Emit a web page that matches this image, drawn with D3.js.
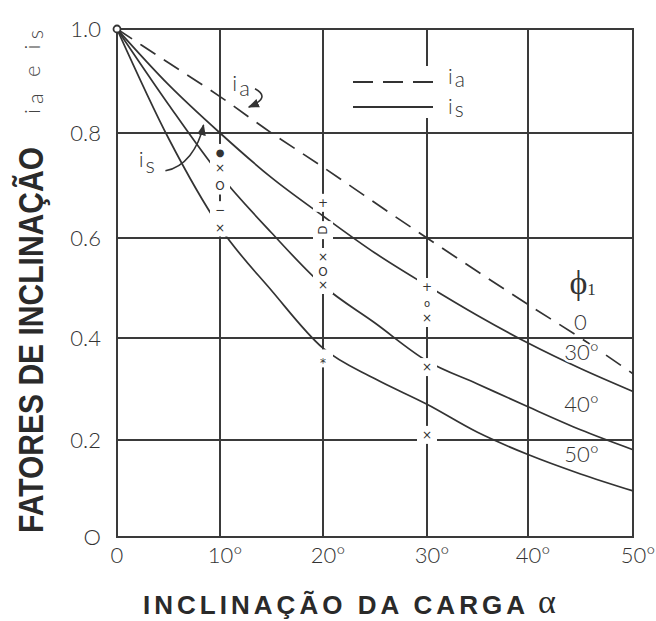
<!DOCTYPE html>
<html>
<head>
<meta charset="utf-8">
<script src="https://cdn.jsdelivr.net/npm/d3@7/dist/d3.min.js"></script>
<style>
  body { margin: 0; background: #fff; }
</style>
</head>
<body>
<div id="container"></div>
<script>
// inclinacao da carga (graus) onde as curvas foram lidas
var alphas = [0, 5, 10, 15, 20, 25, 30, 35, 40, 45, 50];
// i_a (phi1 = 0), tracejada
var iaValues = [1.0, 0.935, 0.87, 0.80, 0.735, 0.667, 0.60, 0.533, 0.467, 0.40, 0.33];
// i_s para phi1 = 30, 40, 50
var is30 = [1.0, 0.893, 0.80, 0.715, 0.642, 0.57, 0.505, 0.445, 0.39, 0.34, 0.295];
var is40 = [1.0, 0.855, 0.72, 0.61, 0.505, 0.43, 0.355, 0.31, 0.265, 0.22, 0.18];
var is50 = [1.0, 0.79, 0.62, 0.495, 0.38, 0.32, 0.27, 0.215, 0.17, 0.13, 0.095];
var curveLabels = ["0", "30°", "40°", "50°"];

var xTicks = [0, 10, 20, 30, 40, 50];
var xTickLabels = ["0", "10°", "20°", "30°", "40°", "50°"];
var yTicks = [0, 0.2, 0.4, 0.6, 0.8, 1.0];
var yTickLabels = ["O", "0.2", "0.4", "0.6", "0.8", "1.0"];

// pontos experimentais
var pointAlpha = [10, 10, 10, 10, 10, 20, 20, 20, 20, 20, 20, 30, 30, 30, 30, 30];
var pointValue = [0.762, 0.733, 0.70, 0.653, 0.62, 0.667, 0.615, 0.562, 0.532, 0.506, 0.36, 0.502, 0.47, 0.44, 0.343, 0.21];
var pointSymbol = ["●", "×", "O", "−", "×", "+", "D", "×", "O", "×", "*", "+", "o", "×", "×", "×"];

var W = 656, H = 621;
var tickFont = "Lato, 'Open Sans', sans-serif";
var ink = "#3a3a3a";

var svg = d3.select('#container')
    .append('svg')
    .attr('width', W)
    .attr('height', H)
    .style('display', 'block');

// the scan is a bit uneven, so piecewise scales
var x = d3.scaleLinear().domain(xTicks).range([117, 220, 323, 427, 528, 633]);
var y = d3.scaleLinear().domain(yTicks).range([537, 440, 338, 238, 133, 29]);

// grid
svg.append('g').selectAll('line').data(xTicks).enter()
    .append('line')
    .attr('x1', d => x(d)).attr('x2', d => x(d))
    .attr('y1', y(0) + 1).attr('y2', y(1) - 1)
    .attr('stroke', ink).attr('stroke-width', 2);

svg.append('g').selectAll('line').data(yTicks).enter()
    .append('line')
    .attr('x1', x(0) - 1).attr('x2', x(50) + 1)
    .attr('y1', d => y(d)).attr('y2', d => y(d))
    .attr('stroke', ink).attr('stroke-width', 2);

// curves
var line = d3.line()
    .x(function (d, i) { return x(alphas[i]); })
    .y(function (d) { return y(d); })
    .curve(d3.curveMonotoneX);

[is30, is40, is50].forEach(function (s) {
    svg.append('path')
        .attr('d', line(s))
        .attr('fill', 'none')
        .attr('stroke', '#333')
        .attr('stroke-width', 1.7);
});

svg.append('path')
    .attr('d', line(iaValues))
    .attr('fill', 'none')
    .attr('stroke', '#333')
    .attr('stroke-width', 1.7)
    .style('stroke-dasharray', '18,10');

// white-out behind the experimental points
var pts = pointAlpha.map(function (a, i) { return { a: a, v: pointValue[i], s: pointSymbol[i] }; });

svg.append('g').selectAll('rect').data(pts).enter()
    .append('rect')
    .attr('x', d => x(d.a) - 10)
    .attr('y', d => y(d.v) - 9)
    .attr('width', 20)
    .attr('height', 18)
    .attr('fill', '#fff');

svg.append('g').selectAll('text').data(pts).enter()
    .append('text')
    .attr('transform', function (d) {
        var r = (d.s == 'D') ? ' rotate(-90)' : '';
        return 'translate(' + x(d.a) + ',' + y(d.v) + ')' + r;
    })
    .attr('text-anchor', 'middle')
    .attr('dy', d => d.s == '*' ? '0.7em' : '0.35em')
    .attr('font-family', "'DejaVu Sans', sans-serif")
    .attr('font-size', d => d.s == '●' ? 10 : (d.s == 'o' ? 10 : 12))
    .attr('fill', '#333')
    .text(d => d.s);

// origin circle
svg.append('circle')
    .attr('cx', x(0)).attr('cy', y(1)).attr('r', 3.5)
    .attr('fill', '#fff').attr('stroke', '#333').attr('stroke-width', 1.8);

// tick labels
svg.append('g').selectAll('text').data(yTicks).enter()
    .append('text')
    .attr('x', 101)
    .attr('y', d => y(d) + 8)
    .attr('text-anchor', 'end')
    .attr('font-family', tickFont)
    .attr('font-weight', 300)
    .attr('font-size', 22)
    .attr('fill', '#333')
    .text((d, i) => yTickLabels[i]);

svg.append('g').selectAll('text').data(xTicks).enter()
    .append('text')
    .attr('x', d => x(d) + (d == 0 ? 0 : 5))
    .attr('y', 563)
    .attr('text-anchor', 'middle')
    .attr('font-family', tickFont)
    .attr('font-weight', 300)
    .attr('font-size', 22)
    .attr('fill', '#333')
    .text((d, i) => xTickLabels[i]);

// axis titles
svg.append('text')
    .attr('transform', 'translate(43,340) rotate(-90)')
    .attr('text-anchor', 'middle')
    .attr('font-family', "'Liberation Sans', Arial, sans-serif")
    .attr('font-weight', 'bold')
    .attr('font-size', 35)
    .attr('textLength', 386)
    .attr('lengthAdjust', 'spacingAndGlyphs')
    .attr('fill', '#2a2a2a')
    .text('FATORES DE INCLINAÇÃO');

var ysub = svg.append('text')
    .attr('transform', 'translate(40,114) rotate(-90)')
    .attr('font-family', tickFont)
    .attr('font-weight', 300)
    .attr('font-size', 22)
    .attr('fill', '#444')
    .attr('textLength', 84)
    .attr('lengthAdjust', 'spacing');
ysub.append('tspan').text('i');
ysub.append('tspan').attr('dy', 3).text('a');
ysub.append('tspan').attr('dy', -3).text(' e ');
ysub.append('tspan').text('i');
ysub.append('tspan').attr('dy', 3).text('s');

svg.append('text')
    .attr('x', 143)
    .attr('y', 614)
    .attr('font-family', "'Liberation Sans', Arial, sans-serif")
    .attr('font-weight', 'bold')
    .attr('font-size', 26)
    .attr('textLength', 382)
    .attr('lengthAdjust', 'spacing')
    .attr('fill', '#2a2a2a')
    .text('INCLINAÇÃO DA CARGA');

svg.append('text')
    .attr('x', 538)
    .attr('y', 613)
    .attr('font-family', "'Liberation Serif', serif")
    .attr('font-size', 34)
    .attr('fill', '#2a2a2a')
    .text('α');

// legend
var lg = svg.append('g');
lg.append('rect').attr('x', 343).attr('y', 66).attr('width', 135).attr('height', 52).attr('fill', '#fff');
lg.append('line').attr('x1', 353).attr('x2', 435).attr('y1', 82).attr('y2', 82)
    .attr('stroke', '#333').attr('stroke-width', 1.8).style('stroke-dasharray', '20,10');
lg.append('line').attr('x1', 353).attr('x2', 433).attr('y1', 107).attr('y2', 107)
    .attr('stroke', '#333').attr('stroke-width', 1.8);
var la = lg.append('text').attr('x', 448).attr('y', 84).attr('font-family', tickFont)
    .attr('font-weight', 300).attr('font-size', 21).attr('fill', '#333');
la.append('tspan').text('i');
la.append('tspan').attr('dx', 2).attr('dy', 3).text('a');
var ls = lg.append('text').attr('x', 448).attr('y', 114).attr('font-family', tickFont)
    .attr('font-weight', 300).attr('font-size', 21).attr('fill', '#333');
ls.append('tspan').text('i');
ls.append('tspan').attr('dx', 2).attr('dy', 3).text('s');

// phi1 and curve labels
var labelAt = [[45, 0.432], [45, 0.372], [45, 0.27], [45, 0.172]];
var phi = svg.append('text')
    .attr('x', x(45.2)).attr('y', y(0.512) + 12)
    .attr('text-anchor', 'middle')
    .attr('font-family', "'Liberation Serif', serif")
    .attr('font-size', 34)
    .attr('fill', '#333');
phi.append('tspan').text('ϕ');
phi.append('tspan').attr('font-size', 17).attr('dy', 1).text('1');

svg.append('g').selectAll('text').data(curveLabels).enter()
    .append('text')
    .attr('x', (d, i) => x(labelAt[i][0]) + (i == 0 ? 0 : 1))
    .attr('y', (d, i) => y(labelAt[i][1]) + 8)
    .attr('text-anchor', 'middle')
    .attr('font-family', tickFont)
    .attr('font-weight', 300)
    .attr('font-size', 22)
    .attr('fill', '#333')
    .style('paint-order', 'stroke')
    .attr('stroke', '#fff')
    .attr('stroke-width', 5)
    .text(d => d);

// i_a and i_s callouts
var ia = svg.append('text').attr('x', x(11.2)).attr('y', y(0.88)).attr('font-family', tickFont)
    .attr('font-weight', 300).attr('font-size', 22).attr('fill', '#333');
ia.append('tspan').text('i');
ia.append('tspan').attr('dx', 2).attr('dy', 5).text('a');

var is = svg.append('text').attr('x', x(2.1)).attr('y', y(0.735)).attr('font-family', tickFont)
    .attr('font-weight', 300).attr('font-size', 22).attr('fill', '#333');
is.append('tspan').text('i');
is.append('tspan').attr('dx', 2).attr('dy', 6).text('s');

svg.append('defs').append('marker')
    .attr('id', 'head')
    .attr('viewBox', '0 0 10 10')
    .attr('refX', 9).attr('refY', 5)
    .attr('markerWidth', 7).attr('markerHeight', 7)
    .attr('orient', 'auto')
    .append('path')
    .attr('d', 'M0,1 L10,5 L0,9 Z')
    .attr('fill', '#333');

var p1 = d3.path();
p1.moveTo(x(13.4), y(0.885));
p1.quadraticCurveTo(x(15.0), y(0.868), x(12.8), y(0.85));
svg.append('path').attr('d', p1.toString())
    .attr('fill', 'none').attr('stroke', '#333').attr('stroke-width', 1.6)
    .attr('marker-end', 'url(#head)');

var p2 = d3.path();
p2.moveTo(x(4.7), y(0.728));
p2.bezierCurveTo(x(6.6), y(0.735), x(7.9), y(0.77), x(8.4), y(0.815));
svg.append('path').attr('d', p2.toString())
    .attr('fill', 'none').attr('stroke', '#333').attr('stroke-width', 1.6)
    .attr('marker-end', 'url(#head)');
</script>
</body>
</html>
